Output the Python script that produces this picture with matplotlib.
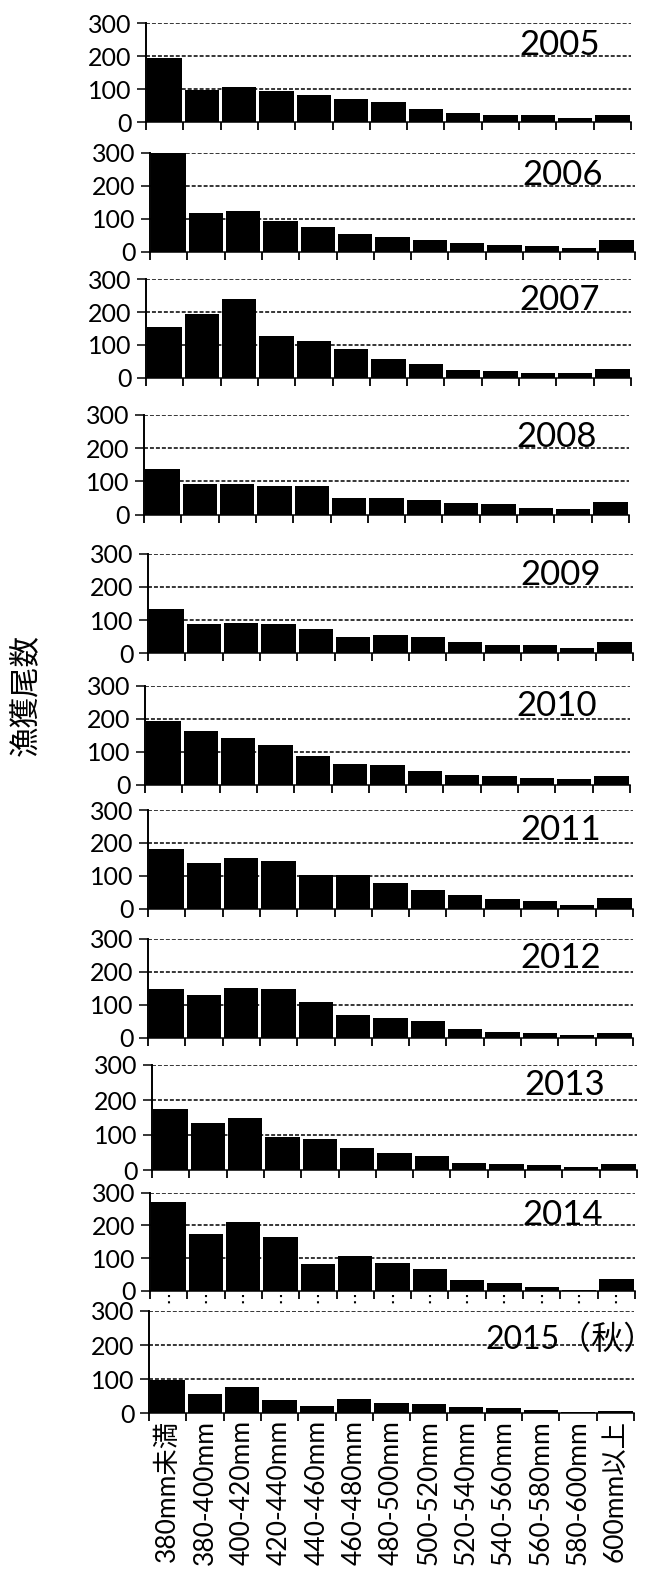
import matplotlib
matplotlib.use("Agg")
import matplotlib.pyplot as plt
import numpy as np

plt.rcParams['font.family'] = ['Lato', 'Noto Sans CJK JP', 'DejaVu Sans']

categories = ["380mm未満", "380-400mm", "400-420mm", "420-440mm", "440-460mm",
              "460-480mm", "480-500mm", "500-520mm", "520-540mm", "540-560mm",
              "560-580mm", "580-600mm", "600mm以上"]

year_labels = ["2005", "2006", "2007", "2008", "2009", "2010",
               "2011", "2012", "2013", "2014", "2015（秋）"]

v2005 = [195, 97, 105, 95, 83, 71, 61, 40, 27, 21, 20, 11, 22]
v2006 = [300, 116, 124, 94, 75, 55, 46, 34, 27, 20, 16, 11, 35]
v2007 = [154, 193, 241, 128, 112, 86, 56, 43, 25, 20, 13, 15, 28]
v2008 = [137, 93, 93, 86, 85, 50, 51, 43, 36, 32, 21, 18, 38]
v2009 = [133, 87, 90, 87, 72, 50, 54, 50, 33, 24, 24, 17, 34]
v2010 = [194, 162, 141, 119, 87, 62, 61, 42, 30, 25, 21, 16, 27]
v2011 = [182, 139, 153, 145, 103, 103, 78, 56, 41, 29, 23, 11, 33]
v2012 = [148, 131, 152, 148, 108, 69, 61, 52, 25, 17, 15, 7, 13]
v2013 = [174, 134, 148, 95, 90, 62, 50, 40, 20, 16, 14, 10, 16]
v2014 = [271, 173, 209, 163, 83, 106, 84, 65, 32, 23, 10, 3, 36]
v2015 = [97, 58, 76, 39, 22, 41, 29, 26, 18, 15, 9, 5, 8]

series = [v2005, v2006, v2007, v2008, v2009, v2010,
          v2011, v2012, v2013, v2014, v2015]

yticks = [0, 100, 200, 300]
ylabel = "漁獲尾数"

# layout (pixels in a 660x1570 canvas)
W, H = 660, 1570
tops = [23.3, 152.7, 279.3, 415, 553.7, 685.7, 810, 939, 1065, 1192.7, 1311]
bottoms = [122, 251.7, 377.7, 514.7, 653.3, 784.7, 908.7, 1037.7, 1170, 1290.7, 1413.3]
lefts = [146, 150, 146, 144, 148, 145, 148, 148, 152, 150, 149]
pw = 485
label_cx = [560, 563, 560, 557, 561, 557, 561, 561, 565, 563, 582]
label_cy = [45, 175, 300, 437, 575, 706, 830, 958, 1085, 1215, 1340]

fig = plt.figure(figsize=(W / 100, H / 100), dpi=100)
x = np.arange(len(categories))

for i, vals in enumerate(series):
    t, b, l = tops[i], bottoms[i], lefts[i]
    ax = fig.add_axes([l / W, 1 - b / H, pw / W, (b - t) / H])
    ax.bar(x, vals, width=0.92, color='black', edgecolor='none', zorder=2)
    ax.set_xlim(-0.5, len(categories) - 0.5)
    ax.set_ylim(0, 300)
    ax.set_yticks(yticks)
    for yv in yticks[1:]:
        ax.axhline(yv, color='black', lw=1.1, linestyle=(0, (2.6, 1.3)), zorder=1)
    for s in ['top', 'right']:
        ax.spines[s].set_visible(False)
    ax.spines['left'].set_linewidth(1.4)
    ax.spines['bottom'].set_linewidth(1.1)
    ax.spines['left'].set_zorder(3)
    ax.tick_params(axis='y', direction='out', length=6.5, width=1.1, pad=4,
                   labelsize=18)
    ax.set_xticks(np.arange(len(categories) + 1) - 0.5)
    ax.set_xticklabels([])
    ax.tick_params(axis='x', which='major', direction='out', length=6, width=1.3)
    if i == len(series) - 1:
        ax.set_xticks(x, minor=True)
        ax.set_xticklabels(categories, minor=True, rotation=90, fontsize=19,
                           va='top', ha='center')
        ax.tick_params(axis='x', which='minor', length=0, pad=5)
    if i == 9:
        ax.vlines(x, -12, -48, colors='black', linestyles=(0, (1, 2)), lw=1.5,
                  clip_on=False)
    if i == len(series) - 1:
        fig.text(656 / W, 1 - label_cy[i] / H, year_labels[i],
                 ha='right', va='center', fontsize=23, zorder=4)
    else:
        fig.text(label_cx[i] / W, 1 - label_cy[i] / H, year_labels[i],
                 ha='center', va='center', fontsize=25, zorder=4)

fig.text(25 / W, 1 - 695 / H, ylabel, rotation=90, ha='center', va='center',
         fontsize=22, family=['Noto Sans CJK JP', 'DejaVu Sans'])

fig.savefig("out.png", dpi=100)
